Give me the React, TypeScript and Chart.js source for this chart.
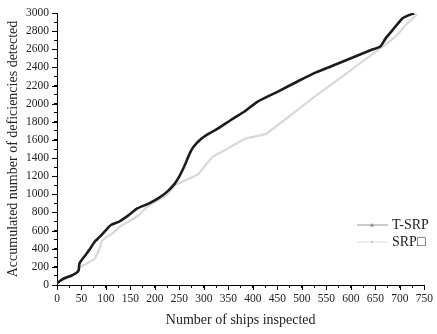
import React, { useEffect, useRef } from "react";
import { Chart, registerables } from "chart.js";

Chart.register(...registerables);

const tsrpX = [0, 10, 20, 30, 40, 44, 46, 53, 65, 77, 87, 97, 110, 127, 145, 164, 188, 208, 225, 240, 250, 261, 271, 278, 295, 310, 329, 355, 382, 409, 450, 490, 524, 560, 600, 640, 660, 671, 685, 705, 718, 729];
const tsrpY = [20, 60, 85, 105, 135, 160, 240, 294, 380, 477, 530, 588, 662, 700, 765, 845, 900, 960, 1030, 1115, 1200, 1323, 1452, 1520, 1615, 1670, 1727, 1820, 1911, 2021, 2131, 2242, 2334, 2413, 2501, 2589, 2630, 2720, 2811, 2940, 2975, 2995];

const srpX = [0, 10, 20, 30, 40, 46, 53, 65, 77, 85, 93, 113, 130, 150, 167, 184, 204, 224, 240, 265, 288, 300, 318, 350, 386, 426, 480, 524, 580, 620, 660, 678, 691, 712, 735];
const srpY = [20, 50, 75, 100, 130, 184, 215, 250, 290, 380, 496, 570, 650, 710, 772, 863, 930, 990, 1100, 1160, 1220, 1300, 1415, 1510, 1617, 1665, 1885, 2070, 2290, 2450, 2610, 2683, 2738, 2867, 2985];

const seriesNames = ["T-SRP", "SRP\u25A1"];
const xTitle = "Number of ships inspected";
const yTitle = "Accumulated number of deficiencies detected";

const FONT = "'Liberation Serif', 'Times New Roman', serif";

const majorTickPlugin = {
  id: "majorTicks",
  afterDraw(chart: any) {
    const ctx = chart.ctx;
    const xs = chart.scales.x;
    const ys = chart.scales.y;
    ctx.save();
    ctx.strokeStyle = "#000";
    ctx.lineWidth = 1;
    ctx.beginPath();
    for (const t of xs.ticks) {
      if (t.value % 50 === 0) {
        const px = Math.round(xs.getPixelForValue(t.value)) + 0.5;
        ctx.moveTo(px, ys.bottom);
        ctx.lineTo(px, ys.bottom + 5);
      }
    }
    for (const t of ys.ticks) {
      if (t.value % 200 === 0) {
        const py = Math.round(ys.getPixelForValue(t.value)) + 0.5;
        ctx.moveTo(xs.left, py);
        ctx.lineTo(xs.left - 5, py);
      }
    }
    ctx.stroke();
    ctx.restore();
  },
};

const legendPlugin = {
  id: "customLegend",
  afterDraw(chart: any) {
    const ctx = chart.ctx;
    ctx.save();
    const items = [
      { label: seriesNames[0], line: "#a8a8a8", marker: "tri", y: 225 },
      { label: seriesNames[1], line: "#e2e2e2", marker: "dot", y: 242 },
    ];
    for (const it of items) {
      ctx.strokeStyle = it.line;
      ctx.lineWidth = 1.2;
      ctx.beginPath();
      ctx.moveTo(357, it.y);
      ctx.lineTo(388, it.y);
      ctx.stroke();
      ctx.fillStyle = it.marker === "tri" ? "#888" : "#ccc";
      if (it.marker === "tri") {
        ctx.beginPath();
        ctx.moveTo(372, it.y - 2);
        ctx.lineTo(374, it.y + 1.5);
        ctx.lineTo(370, it.y + 1.5);
        ctx.closePath();
        ctx.fill();
      } else {
        ctx.beginPath();
        ctx.arc(372, it.y, 1.3, 0, Math.PI * 2);
        ctx.fill();
      }
      ctx.fillStyle = "#222";
      ctx.font = `14px ${FONT}`;
      ctx.textBaseline = "middle";
      ctx.textAlign = "left";
      ctx.fillText(it.label, 392, it.y);
    }
    ctx.restore();
  },
};

export default function App() {
  const ref = useRef<HTMLCanvasElement | null>(null);
  useEffect(() => {
    document.body.style.margin = "0";
    const canvas = ref.current;
    if (!canvas) return;
    const chart = new Chart(canvas, {
      type: "line",
      data: {
        datasets: [
          {
            label: seriesNames[0],
            data: tsrpX.map((x, i) => ({ x, y: tsrpY[i] })),
            borderColor: "#1c1c1c",
            borderWidth: 2.6,
            pointRadius: 0,
            tension: 0.2,
            order: 0,
          },
          {
            label: seriesNames[1],
            data: srpX.map((x, i) => ({ x, y: srpY[i] })),
            borderColor: "#d9d9d9",
            borderWidth: 2.3,
            pointRadius: 0,
            tension: 0.1,
            order: 1,
          },
        ],
      },
      options: {
        responsive: false,
        animation: false,
        layout: { padding: { left: 0, right: 8, top: 13, bottom: 0 } },
        plugins: { legend: { display: false }, tooltip: { enabled: false } },
        scales: {
          x: {
            type: "linear",
            min: 0,
            max: 750,
            afterFit: (s: any) => {
              s.height = 49;
            },
            ticks: {
              stepSize: 25,
              autoSkip: false,
              maxRotation: 0,
              padding: 4,
              color: "#222",
              font: { family: FONT, size: 11.5 },
              callback: (v: any) => (Number(v) % 50 === 0 ? String(v) : ""),
            },
            grid: { drawOnChartArea: false, drawTicks: true, tickLength: 3, color: "#000" },
            border: { display: true, color: "#000", width: 1 },
            title: {
              display: true,
              text: xTitle,
              color: "#222",
              font: { family: FONT, size: 14 },
              padding: { top: 0, bottom: 5 },
            },
          },
          y: {
            type: "linear",
            min: 0,
            max: 3000,
            afterFit: (s: any) => {
              s.width = 57;
            },
            ticks: {
              stepSize: 100,
              autoSkip: false,
              padding: 5,
              color: "#222",
              font: { family: FONT, size: 11.5 },
              callback: (v: any) => (Number(v) % 200 === 0 ? String(v) : ""),
            },
            grid: { drawOnChartArea: false, drawTicks: true, tickLength: 3, color: "#000" },
            border: { display: true, color: "#000", width: 1 },
            title: {
              display: true,
              text: yTitle,
              color: "#222",
              font: { family: FONT, size: 14 },
              padding: { top: 5, bottom: 0 },
            },
          },
        },
      },
      plugins: [majorTickPlugin, legendPlugin],
    });
    return () => chart.destroy();
  }, []);
  return (
    <div style={{ position: "fixed", left: 0, top: 0, width: 437, height: 334, background: "#fff" }}>
      <canvas ref={ref} width={437} height={334} />
    </div>
  );
}
